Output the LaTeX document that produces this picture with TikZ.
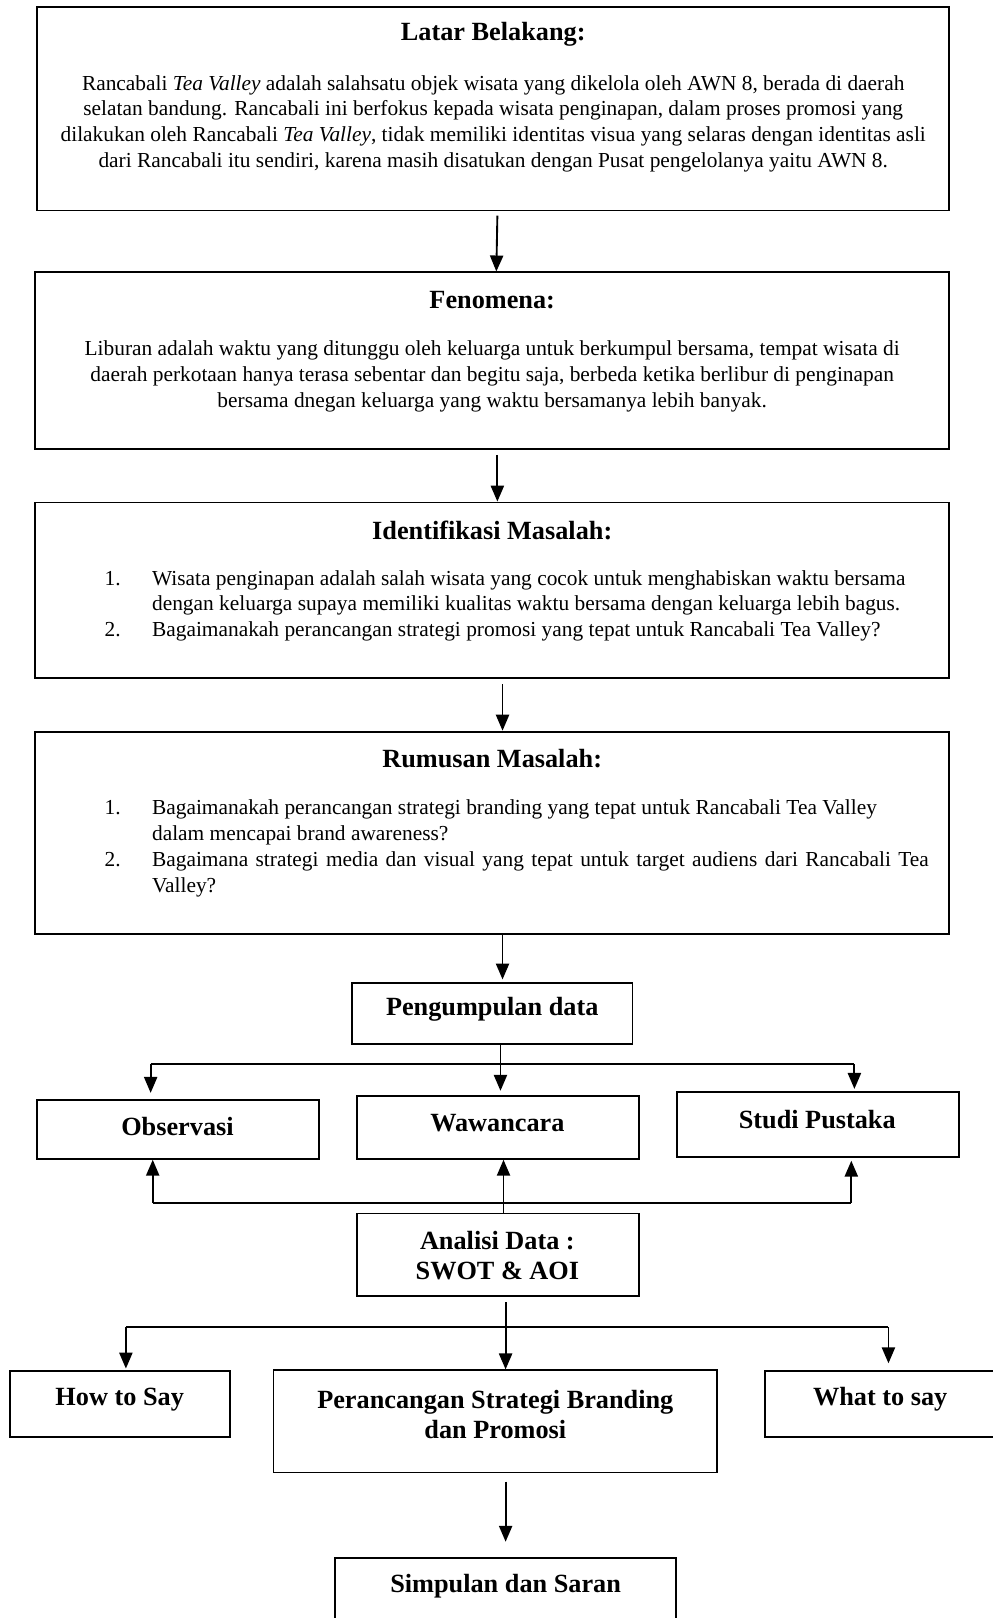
\documentclass[tikz,border=0pt]{standalone}
\usepackage{fontspec}
\setmainfont{Liberation Serif}
\usetikzlibrary{arrows.meta, positioning, calc, fit}

\begin{document}
\begin{tikzpicture}[
    x=0.55pt, y=-0.55pt,
    box/.style={rectangle, draw, line width=1pt, inner sep=0pt},
    head/.style={inner sep=0pt, align=center, font=\fontsize{14}{16.1}\selectfont\bfseries},
    body/.style={inner sep=0pt, align=center, font=\fontsize{11.4}{13.8}\selectfont},
    arrow/.style={-{Triangle[length=8.5pt, width=7pt]}, line width=1pt},
    link/.style={line width=1pt}
]
\useasboundingbox (0,0) rectangle (962,1568);

% main boxes
\node[box, fit={(36,7) (920,204)}] (latar) {};
\node[box, fit={(34,264) (920,435)}] (fenomena) {};
\node[box, fit={(34,487) (920,657)}] (identifikasi) {};
\node[box, fit={(34,709) (920,905)}] (rumusan) {};

\node[head] (latar-title) at (478,33) {Latar Belakang:};
\node[body] (latar-text) at (478,120) {Rancabali \textit{Tea Valley} adalah salahsatu objek wisata yang dikelola oleh AWN 8, berada di daerah\\
selatan bandung. Rancabali ini berfokus kepada wisata penginapan, dalam proses promosi yang\\
dilakukan oleh Rancabali \textit{Tea Valley}, tidak memiliki identitas visua yang selaras dengan identitas asli\\
dari Rancabali itu sendiri, karena masih disatukan dengan Pusat pengelolanya yaitu AWN 8.};

\node[head] (fenomena-title) at (477,291) {Fenomena:};
\node[body] (fenomena-text) at (477,365) {Liburan adalah waktu yang ditunggu oleh keluarga untuk berkumpul bersama, tempat wisata di\\
daerah perkotaan hanya terasa sebentar dan begitu saja, berbeda ketika berlibur di penginapan\\
bersama dnegan keluarga yang waktu bersamanya lebih banyak.};

\node[head] (identifikasi-title) at (477,514) {Identifikasi Masalah:};
\node[body, anchor=west, align=left] (identifikasi-list) at (101,587) {%
\begin{tabular}{@{}p{25.3pt}@{}p{440pt}@{}}
1. & Wisata penginapan adalah salah wisata yang cocok untuk menghabiskan waktu bersama\newline
dengan keluarga supaya memiliki kualitas waktu bersama dengan keluarga lebih bagus.\\
2. & Bagaimanakah perancangan strategi promosi yang tepat untuk Rancabali Tea Valley?
\end{tabular}};

\node[head] (rumusan-title) at (477,735) {Rumusan Masalah:};
\node[body, anchor=west, align=left] (rumusan-list) at (101,822) {%
\begin{tabular}{@{}p{25.3pt}@{}p{440pt}@{}}
1. & Bagaimanakah perancangan strategi branding yang tepat untuk Rancabali Tea Valley\newline
dalam mencapai brand awareness?\\
2. & \makebox[414pt][s]{Bagaimana strategi media dan visual yang tepat untuk target audiens dari Rancabali Tea}\newline
Valley?
\end{tabular}};

% data collection
\node[box, fit={(341,953) (613,1012)}] (pengumpulan) {};
\node[head] (pengumpulan-text) at (477,978) {Pengumpulan data};
\node[box, fit={(36,1066) (309,1123)}] (observasi) {};
\node[head] (observasi-text) at (172,1092) {Observasi};
\node[box, fit={(346,1062) (619,1123)}] (wawancara) {};
\node[head] (wawancara-text) at (482,1088) {Wawancara};
\node[box, fit={(656,1058) (929,1121)}] (studi) {};
\node[head] (studi-text) at (792,1085) {Studi Pustaka};
\node[box, fit={(346,1176) (619,1256)}] (analisi) {};
\node[head] (analisi-text) at (482,1217) {Analisi Data :\\SWOT \& AOI};

% strategy
\node[box, fit={(10,1329) (223,1393)}] (howsay) {};
\node[head] (howsay-text) at (116,1356) {How to Say};
\node[box, fit={(265,1328) (695,1427)}] (perancangan) {};
\node[head] (perancangan-text) at (480,1371) {Perancangan Strategi Branding\\dan Promosi};
\node[box, fit={(741,1329) (980,1393)}] (whatsay) {};
\node[head] (whatsay-text) at (853,1356) {What to say};
\node[box, fit={(325,1510) (655,1590)}] (simpulan) {};
\node[head] (simpulan-text) at (490,1537) {Simpulan dan Saran};

\coordinate (pkL) at (146,1031);
\coordinate (pkR) at (828,1031);
\coordinate (anL) at (148,1166);
\coordinate (anR) at (825,1166);
\coordinate (adL) at (122,1286);
\coordinate (adR) at (861,1286);

\draw[arrow] ([xshift=2.2pt,yshift=-2.2pt]latar.south) -- ([xshift=2.2pt]fenomena.north);
\draw[arrow] ([xshift=2.75pt,yshift=-2.75pt]fenomena.south) -- ([xshift=2.75pt]identifikasi.north);
\draw[arrow] ([xshift=5.5pt,yshift=-2.75pt]identifikasi.south) -- ([xshift=5.5pt]rumusan.north);
\draw[arrow, shorten >=1.6pt] ([xshift=5.5pt]rumusan.south) -- ([xshift=5.5pt]pengumpulan.north);
\draw[arrow, shorten >=2.2pt] ([xshift=4.4pt]pengumpulan.south) -- ([xshift=4.4pt]pengumpulan.south |- wawancara.north);
\draw[link] (pkL) -- (pkR);
\draw[arrow, shorten >=3.3pt] (pkL) -- (pkL |- observasi.north);
\draw[arrow, shorten >=1pt] (pkR) -- (pkR |- studi.north);

\draw[link] (anL) -- (anR);
\draw[arrow] (anL) -- (anL |- observasi.south);
\draw[arrow, shorten >=1.6pt] (anR) -- (anR |- studi.south);
\draw[arrow] ([xshift=3pt]analisi.north) -- ([xshift=3pt]analisi.north |- wawancara.south);

\draw[arrow] ([xshift=4.1pt,yshift=-2.75pt]analisi.south) -- ([xshift=4.1pt]analisi.south |- perancangan.north);
\draw[link] (adL) -- (adR);
\draw[arrow, shorten >=1pt] (adL) -- (adL |- howsay.north);
\draw[arrow, shorten >=3.8pt] (adR) -- (adR |- whatsay.north);
\draw[arrow, shorten >=8.25pt] ([xshift=5.5pt,yshift=-4.4pt]perancangan.south) -- ([xshift=5.5pt]perancangan.south |- simpulan.north);

\end{tikzpicture}
\end{document}
